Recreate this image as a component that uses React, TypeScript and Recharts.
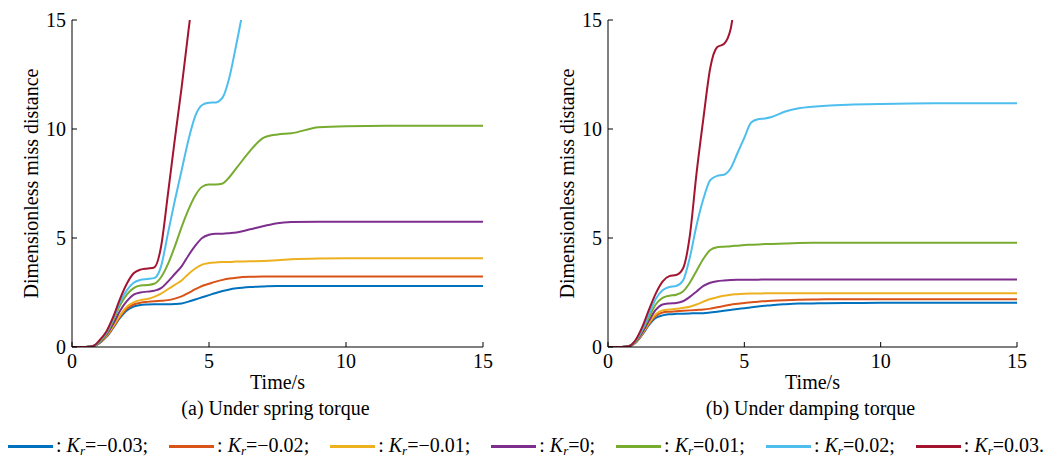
import { Line, LineChart, XAxis, YAxis } from "recharts";

// sample times (s) shared by every curve
const time = [
  0, 0.5, 0.75, 1, 1.25, 1.5, 1.75, 2, 2.25, 2.5, 2.75, 3, 3.25, 3.5, 3.75, 4,
  4.25, 4.5, 4.75, 5, 5.25, 5.5, 5.75, 6, 6.5, 7, 7.5, 8, 9, 10, 12, 15,
];

const krLabels = ["−0.03", "−0.02", "−0.01", "0", "0.01", "0.02", "0.03"];
const colors = ["#0072BD", "#D95319", "#EDB120", "#7E2F8E", "#77AC30", "#4DBEEE", "#A2142F"];
const axisTicks = [0, 5, 10, 15];

// (a) spring torque
const springN03 = [0, 0, 0.03, 0.18, 0.45, 0.87, 1.33, 1.68, 1.86, 1.93, 1.95, 1.96, 1.96, 1.96, 1.97, 2.0, 2.08, 2.18, 2.28, 2.38, 2.48, 2.57, 2.64, 2.69, 2.75, 2.78, 2.8, 2.8, 2.8, 2.8, 2.8, 2.8];
const springN02 = [0, 0, 0.03, 0.19, 0.48, 0.9, 1.38, 1.75, 1.95, 2.03, 2.07, 2.1, 2.12, 2.15, 2.22, 2.32, 2.48, 2.65, 2.8, 2.9, 3.0, 3.08, 3.14, 3.18, 3.22, 3.23, 3.23, 3.23, 3.23, 3.23, 3.23, 3.23];
const springN01 = [0, 0, 0.03, 0.2, 0.5, 0.95, 1.45, 1.85, 2.05, 2.15, 2.2, 2.3, 2.45, 2.65, 2.85, 3.05, 3.35, 3.6, 3.78, 3.85, 3.88, 3.9, 3.9, 3.92, 3.93, 3.95, 3.98, 4.02, 4.06, 4.07, 4.07, 4.07];
const spring0 = [0, 0, 0.03, 0.2, 0.55, 1.05, 1.65, 2.1, 2.4, 2.5, 2.54, 2.58, 2.7, 3.0, 3.35, 3.7, 4.2, 4.65, 5.0, 5.15, 5.2, 5.2, 5.22, 5.25, 5.4, 5.55, 5.68, 5.73, 5.75, 5.75, 5.75, 5.75];
const springP01 = [0, 0, 0.03, 0.22, 0.6, 1.2, 1.9, 2.4, 2.7, 2.82, 2.84, 2.9, 3.2, 3.8, 4.6, 5.5, 6.3, 6.95, 7.35, 7.45, 7.45, 7.5, 7.8, 8.2, 9.0, 9.6, 9.75, 9.8, 10.08, 10.13, 10.15, 10.15];
const springP02 = [0, 0, 0.03, 0.27, 0.65, 1.3, 2.05, 2.6, 2.95, 3.08, 3.12, 3.16, 3.7, 5.2, 6.7, 8.1, 9.5, 10.6, 11.1, 11.2, 11.22, 11.45, 12.4, 13.9, 17.2, null, null, null, null, null, null, null];
const springP03 = [0, 0, 0.03, 0.3, 0.7, 1.37, 2.2, 2.9, 3.38, 3.55, 3.6, 3.65, 4.6, 7.0, 9.5, 11.9, 14.5, 17.0, null, null, null, null, null, null, null, null, null, null, null, null, null, null];

// (b) damping torque
const dampN03 = [0, 0, 0.03, 0.18, 0.55, 1.0, 1.33, 1.45, 1.5, 1.52, 1.53, 1.54, 1.55, 1.55, 1.58, 1.62, 1.66, 1.7, 1.74, 1.78, 1.82, 1.86, 1.89, 1.92, 1.96, 1.99, 2.0, 2.01, 2.02, 2.03, 2.03, 2.03];
const dampN02 = [0, 0, 0.03, 0.2, 0.58, 1.05, 1.42, 1.58, 1.62, 1.64, 1.66, 1.68, 1.7, 1.72, 1.76, 1.82, 1.88, 1.94, 1.98, 2.02, 2.05, 2.08, 2.1, 2.12, 2.15, 2.17, 2.18, 2.19, 2.19, 2.19, 2.19, 2.19];
const dampN01 = [0, 0, 0.03, 0.2, 0.6, 1.1, 1.5, 1.68, 1.72, 1.75, 1.8, 1.85, 1.95, 2.08, 2.2, 2.28, 2.35, 2.4, 2.42, 2.44, 2.45, 2.45, 2.46, 2.46, 2.46, 2.46, 2.46, 2.46, 2.46, 2.46, 2.46, 2.46];
const damp0 = [0, 0, 0.03, 0.22, 0.65, 1.2, 1.7, 1.95, 2.0, 2.02, 2.1, 2.3, 2.55, 2.8, 2.95, 3.02, 3.05, 3.07, 3.08, 3.08, 3.09, 3.09, 3.1, 3.1, 3.1, 3.1, 3.1, 3.1, 3.1, 3.1, 3.1, 3.1];
const dampP01 = [0, 0, 0.03, 0.25, 0.75, 1.35, 1.95, 2.25, 2.35, 2.4, 2.55, 2.95, 3.5, 4.05, 4.45, 4.58, 4.6, 4.62, 4.65, 4.68, 4.69, 4.7, 4.72, 4.73, 4.75, 4.77, 4.78, 4.78, 4.78, 4.78, 4.78, 4.78];
const dampP02 = [0, 0, 0.03, 0.28, 0.8, 1.5, 2.2, 2.6, 2.75, 2.8, 3.05, 4.1, 5.6, 6.8, 7.65, 7.85, 7.9, 8.2, 8.9, 9.6, 10.3, 10.45, 10.48, 10.55, 10.8, 10.95, 11.02, 11.07, 11.12, 11.15, 11.18, 11.18];
const dampP03 = [0, 0, 0.03, 0.3, 0.9, 1.7, 2.45, 3.0, 3.25, 3.3, 3.6, 5.1, 8.0, 10.5, 12.8, 13.75, 13.9, 14.6, 17.0, null, null, null, null, null, null, null, null, null, null, null, null, null];

const springSeries = [springN03, springN02, springN01, spring0, springP01, springP02, springP03];
const dampSeries = [dampN03, dampN02, dampN01, damp0, dampP01, dampP02, dampP03];

const FONT = "'Liberation Serif', 'Times New Roman', serif";
const textStyle = { fontFamily: FONT, fontSize: 20, fill: "#000", stroke: "none" };

const toRows = (series: (number | null)[][]) =>
  time.map((t, i) => {
    const row: Record<string, number | null> = { t };
    series.forEach((s, k) => {
      row["k" + k] = s[i];
    });
    return row;
  });

// MATLAB style box: ticks point inward on all four sides
const BottomTick = ({ x, y, payload }: any) => (
  <g>
    <line x1={x} x2={x} y1={y} y2={y - 5} stroke="#000" />
    <text x={x} y={y + 21} textAnchor="middle" style={textStyle}>
      {payload.value}
    </text>
  </g>
);
const TopTick = ({ x, y }: any) => <line x1={x} x2={x} y1={y} y2={y + 5} stroke="#000" />;
const LeftTick = ({ x, y, payload }: any) => (
  <g>
    <line x1={x} x2={x + 5} y1={y} y2={y} stroke="#000" />
    <text x={x - 6} y={y} textAnchor="end" dominantBaseline="central" style={textStyle}>
      {payload.value}
    </text>
  </g>
);
const RightTick = ({ x, y }: any) => <line x1={x} x2={x - 5} y1={y} y2={y} stroke="#000" />;

const XLabels = ({ viewBox, caption }: any) => {
  const cx = viewBox.x + viewBox.width / 2;
  return (
    <g>
      <text x={cx} y={viewBox.y + 42} textAnchor="middle" style={textStyle}>
        Time/s
      </text>
      <text x={cx - 2} y={viewBox.y + 68} textAnchor="middle" style={textStyle}>
        {caption}
      </text>
    </g>
  );
};

const YLabel = ({ viewBox }: any) => {
  const cx = viewBox.x + viewBox.width - 41;
  const cy = viewBox.y + viewBox.height / 2;
  return (
    <text
      x={cx}
      y={cy}
      transform={`rotate(-90 ${cx} ${cy})`}
      textAnchor="middle"
      dominantBaseline="central"
      style={textStyle}
    >
      Dimensionless miss distance
    </text>
  );
};

const Panel = ({
  series,
  caption,
  left,
  yWidth,
  right,
}: {
  series: (number | null)[][];
  caption: string;
  left: number;
  yWidth: number;
  right: number;
}) => (
  <div style={{ position: "absolute", left, top: 0 }}>
    <LineChart width={530} height={420} data={toRows(series)} margin={{ top: 20, right, bottom: 0, left: 0 }}>
      <XAxis
        xAxisId="b"
        dataKey="t"
        type="number"
        domain={[0, 15]}
        ticks={axisTicks}
        interval={0}
        allowDataOverflow
        height={73}
        tickSize={0}
        tickMargin={0}
        axisLine={{ stroke: "#000" }}
        tickLine={false}
        tick={<BottomTick />}
        label={<XLabels caption={caption} />}
      />
      <XAxis
        xAxisId="t"
        orientation="top"
        dataKey="t"
        type="number"
        domain={[0, 15]}
        ticks={axisTicks}
        interval={0}
        height={0}
        tickSize={0}
        tickMargin={0}
        axisLine={{ stroke: "#000" }}
        tickLine={false}
        tick={<TopTick />}
      />
      <YAxis
        yAxisId="l"
        type="number"
        domain={[0, 15]}
        ticks={axisTicks}
        interval={0}
        allowDataOverflow
        width={yWidth}
        tickSize={0}
        tickMargin={0}
        axisLine={{ stroke: "#000" }}
        tickLine={false}
        tick={<LeftTick />}
        label={<YLabel />}
      />
      <YAxis
        yAxisId="r"
        orientation="right"
        type="number"
        domain={[0, 15]}
        ticks={axisTicks}
        interval={0}
        width={0}
        tickSize={0}
        tickMargin={0}
        axisLine={{ stroke: "#000" }}
        tickLine={false}
        tick={<RightTick />}
      />
      {series.map((_, k) => (
        <Line
          key={k}
          xAxisId="b"
          yAxisId="l"
          dataKey={"k" + k}
          type="monotone"
          stroke={colors[k]}
          strokeWidth={2}
          dot={false}
          activeDot={false}
          isAnimationActive={false}
        />
      ))}
    </LineChart>
  </div>
);

const KrLegend = () => (
  <div
    style={{
      position: "absolute",
      left: 8,
      top: 434,
      display: "flex",
      alignItems: "center",
      fontFamily: FONT,
      fontSize: 20,
      color: "#000",
      whiteSpace: "nowrap",
    }}
  >
    {krLabels.map((lab, k) => (
      <div key={k} style={{ display: "flex", alignItems: "center", marginRight: 21 }}>
        <span style={{ display: "inline-block", width: 45, height: 3, background: colors[k], marginRight: 3 }} />
        <span>
          :&nbsp;<i>K</i>
          <sub style={{ fontSize: 13, verticalAlign: -3 }}>
            <i>r</i>
          </sub>
          ={lab}
          {k === krLabels.length - 1 ? "." : ";"}
        </span>
      </div>
    ))}
  </div>
);

export default function App() {
  return (
    <div style={{ position: "absolute", left: 0, top: 0, width: 1060, height: 458, background: "#fff" }}>
      <Panel series={springSeries} caption="(a) Under spring torque" left={0} yWidth={72} right={47} />
      <Panel series={dampSeries} caption="(b) Under damping torque" left={530} yWidth={78} right={43} />
      <KrLegend />
    </div>
  );
}
